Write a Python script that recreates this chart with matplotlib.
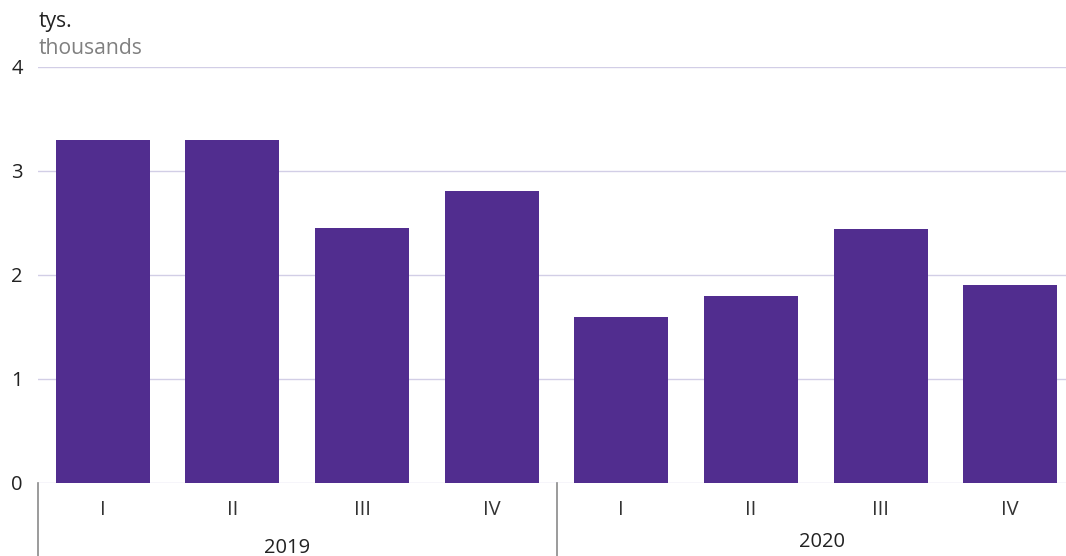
import matplotlib
matplotlib.use("Agg")
import matplotlib.pyplot as plt

quarters = ["I", "II", "III", "IV", "I", "II", "III", "IV"]
years = ["2019", "2020"]
values = [3.30, 3.30, 2.45, 2.81, 1.60, 1.80, 2.44, 1.90]
yticks = [0, 1, 2, 3, 4]

bar_color = "#512d8f"
grid_color = "#d2cee6"
sep_color = "#8a8a8a"

plt.rcParams['font.family'] = ['Open Sans', 'DejaVu Sans']

W, H = 1066, 556
fig = plt.figure(figsize=(W / 100, H / 100), dpi=100)
left, right, top, bottom = 38, 1075, 67, 483
ax = fig.add_axes([left / W, 1 - bottom / H, (right - left) / W, (bottom - top) / H])

x = list(range(len(values)))
ax.bar(x, values, width=0.725, color=bar_color, zorder=3)
ax.set_xlim(-0.5, len(values) - 0.5)
ax.set_ylim(0, 4)
ax.set_yticks(yticks)
ax.set_yticklabels([str(t) for t in yticks], fontsize=14.5, color="#222222")
ax.tick_params(axis='y', length=0, pad=11)
for t in yticks:
    ax.axhline(t, color=grid_color, lw=1, zorder=1)
for s in ax.spines.values():
    s.set_visible(False)
ax.set_xticks(x)
ax.set_xticklabels(quarters, fontsize=14.5, color="#333333")
ax.tick_params(axis='x', length=0, pad=12)

# year separators
ax.plot([-0.5, -0.5], [0, -0.9], color=sep_color, lw=1.2, clip_on=False)
ax.plot([3.5, 3.5], [0, -0.9], color=sep_color, lw=1.2, clip_on=False)
ax.text(1.42, -0.625, years[0], ha='center', va='center', fontsize=14.5, color="#222222")
ax.text(5.55, -0.57, years[1], ha='center', va='center', fontsize=14.5, color="#222222")

fig.text(39 / W, 1 - 21 / H, "tys.", ha='left', va='center', fontsize=15.2, color="#222222")
fig.text(39 / W, 1 - 49 / H, "thousands", ha='left', va='center', fontsize=15.2, color="#808080")

fig.savefig("out.png", dpi=100)
